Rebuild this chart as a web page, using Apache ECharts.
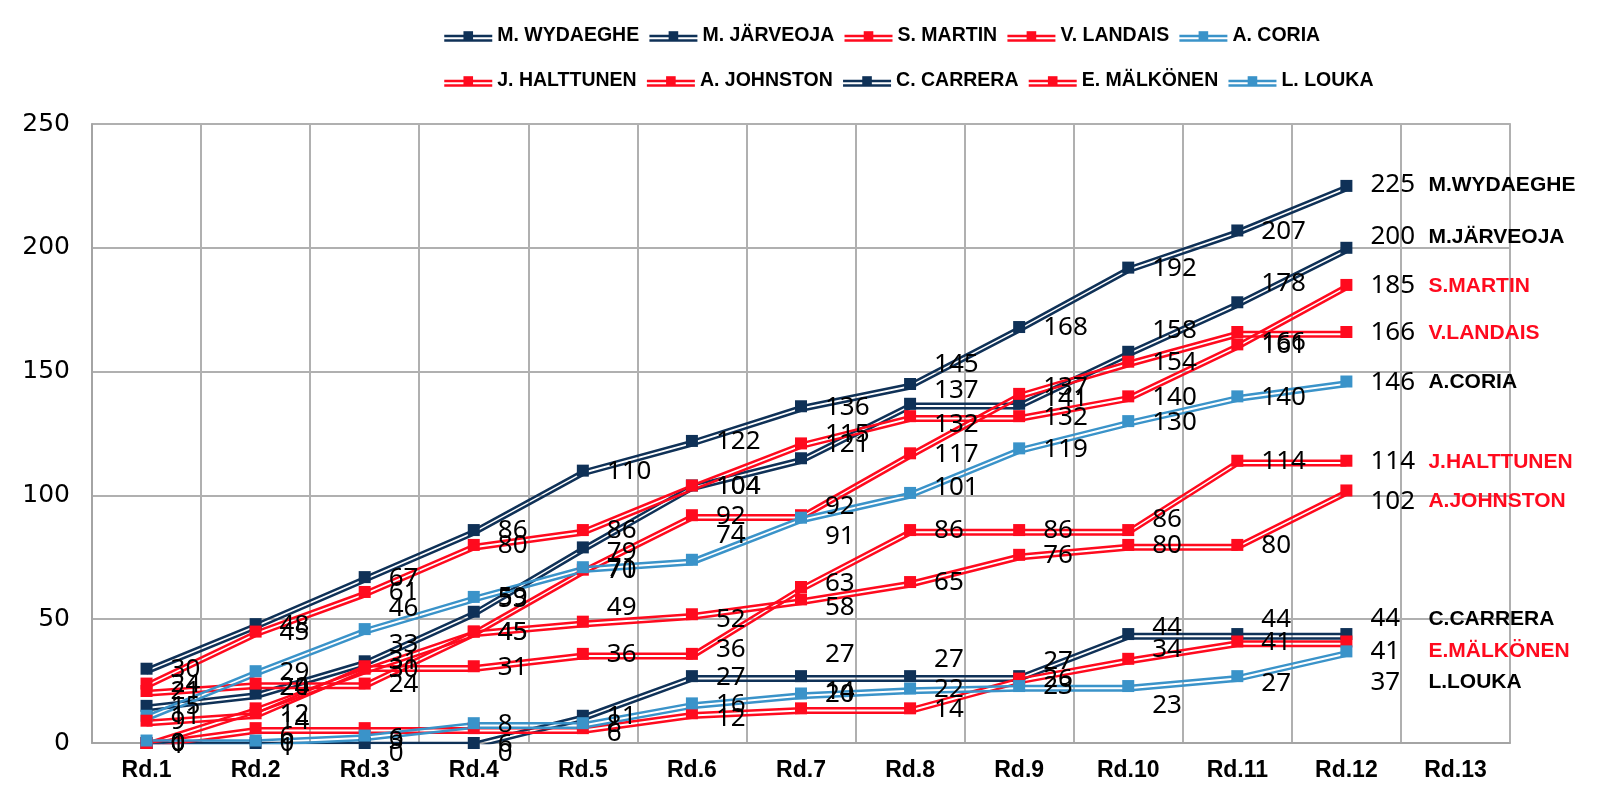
<!DOCTYPE html>
<html><head><meta charset="utf-8">
<script src="https://cdn.jsdelivr.net/npm/echarts@6/dist/echarts.min.js"></script>
<style>html,body{margin:0;padding:0;background:#fff}#c{width:1617px;height:806px}</style>
</head><body><div id="c"></div>
<script>
// ---- data ----
const rounds = ['Rd.1','Rd.2','Rd.3','Rd.4','Rd.5','Rd.6','Rd.7','Rd.8','Rd.9','Rd.10','Rd.11','Rd.12','Rd.13'];
const yTicks = [0, 50, 100, 150, 200, 250];
const legendNames = ['M. WYDAEGHE','M. JÄRVEOJA','S. MARTIN','V. LANDAIS','A. CORIA','J. HALTTUNEN','A. JOHNSTON','C. CARRERA','E. MÄLKÖNEN','L. LOUKA'];
const endNames = ['M.WYDAEGHE','M.JÄRVEOJA','S.MARTIN','V.LANDAIS','A.CORIA','J.HALTTUNEN','A.JOHNSTON','C.CARRERA','E.MÄLKÖNEN','L.LOUKA'];
const wydaeghe  = [30, 48, 67, 86, 110, 122, 136, 145, 168, 192, 207, 225];
const jarveoja  = [15, 20, 33, 53, 79, 104, 115, 137, 137, 158, 178, 200];
const martin    = [24, 45, 61, 80, 86, 104, 121, 132, 132, 140, 161, 185];
const landais   = [21, 24, 24, 45, 70, 92, 92, 117, 141, 154, 166, 166];
const coria     = [11, 29, 46, 59, 71, 74, 91, 101, 119, 130, 140, 146];
const halttunen = [9, 12, 31, 31, 36, 36, 63, 86, 86, 86, 114, 114];
const johnston  = [0, 14, 30, 45, 49, 52, 58, 65, 76, 80, 80, 102];
const carrera   = [0, 0, 0, 0, 11, 27, 27, 27, 27, 44, 44, 44];
const malkonen  = [0, 6, 6, 6, 6, 12, 14, 14, 26, 34, 41, 41];
const louka     = [1, 1, 3, 8, 8, 16, 20, 22, 23, 23, 27, 37];
const seriesValues = [wydaeghe, jarveoja, martin, landais, coria, halttunen, johnston, carrera, malkonen, louka];

// ---- styles ----
const NAVY = '#0f3157', RED = '#ff0a1e', LBLUE = '#3a93c9';
const colors = [NAVY, NAVY, RED, RED, LBLUE, RED, RED, NAVY, RED, LBLUE];
const nameColors = ['#000','#000',RED,RED,'#000',RED,RED,'#000',RED,'#000'];
// vertical label nudges (px) per series, by round index
const labelDy = [
  {7:-20, 11:-2},
  {1:-7, 2:-18, 3:-13, 4:4, 6:-25, 7:-14, 8:-17, 9:-22, 10:-20, 11:-12},
  {1:0, 7:7},
  {1:3, 6:-10, 8:4, 10:10},
  {2:-22, 5:-25, 6:18, 7:-6},
  {2:-6, 5:-5, 6:-4, 9:-11},
  {1:12, 4:-15, 5:4, 6:7, 11:10},
  {2:10, 3:10, 6:-23, 7:-18, 8:-16, 9:-7, 10:-15, 11:-16},
  {1:7, 2:9, 3:15, 4:4, 5:4, 6:-18, 9:-10, 11:9},
  {0:4, 1:6, 2:5, 9:19, 10:6, 11:30}
];
const NUMFONT = 'Noto Sans';
const NARROW = '"Liberation Sans", Arial, sans-serif';
const dbl = (c) => ({ color: c, width: 2.5, shadowColor: c, shadowBlur: 0, shadowOffsetY: 4.5 });

const series = seriesValues.map((vals, si) => ({
  name: legendNames[si],
  type: 'line',
  symbol: 'rect',
  symbolSize: 12,
  z: 2,
  lineStyle: dbl(colors[si]),
  itemStyle: { color: colors[si] },
  emphasis: { disabled: true },
  data: vals.map((v, i) => ({
    value: v,
    label: { offset: [0, (labelDy[si][i] || 0) + 1] }
  })),
  label: {
    show: true,
    position: 'right',
    distance: 18,
    color: '#000',
    fontFamily: NUMFONT,
    fontSize: 26,
    formatter: (p) => p.dataIndex === vals.length - 1 ? '{v|' + p.value + '}{n|' + endNames[si] + '}' : String(p.value),
    rich: {
      v: { width: 58, fontFamily: NUMFONT, fontSize: 26, color: '#000' },
      n: { fontFamily: NARROW, fontWeight: 'bold', fontSize: 21, color: nameColors[si] }
    }
  }
}));

const legendBase = {
  itemWidth: 48, itemHeight: 12, itemGap: 9,
  textStyle: { width: 160, fontFamily: NARROW, fontWeight: 'bold', fontSize: 19.5, color: '#000' },
  selectedMode: false
};
const legendItems = (from, to) => legendNames.slice(from, to).map((n, k) => ({
  name: n,
  lineStyle: dbl(colors[from + k])
}));

const chart = echarts.init(document.getElementById('c'), null, { renderer: 'canvas' });
chart.setOption({
  animation: false,
  backgroundColor: '#fff',
  legend: [
    Object.assign({}, legendBase, { data: legendItems(0, 5), left: 438, top: 21 }),
    Object.assign({}, legendBase, { data: legendItems(5, 10), left: 438, top: 66 })
  ],
  grid: { left: 92, right: 107, top: 124, bottom: 63, show: true, borderColor: '#8c8c8c', borderWidth: 1.5, outerBoundsMode: 'none', containLabel: false },
  xAxis: {
    type: 'category', data: rounds, boundaryGap: true,
    axisLine: { show: true, lineStyle: { color: '#a0a0a0', width: 1.5 } },
    axisTick: { show: false },
    splitLine: { show: true, lineStyle: { color: '#b0b0b0', width: 2 } },
    axisLabel: { interval: 0, margin: 16, color: '#000', fontFamily: NARROW, fontWeight: 'bold', fontSize: 23 }
  },
  yAxis: {
    type: 'value', min: yTicks[0], max: yTicks[yTicks.length - 1], interval: yTicks[1] - yTicks[0],
    axisLine: { show: true, lineStyle: { color: '#a0a0a0', width: 1.5 } },
    axisTick: { show: false },
    splitLine: { show: true, lineStyle: { color: '#b0b0b0', width: 2 } },
    axisLabel: { margin: 22, color: '#000', fontFamily: 'DejaVu Sans', fontSize: 25 }
  },
  series: series
});
</script>
</body></html>
